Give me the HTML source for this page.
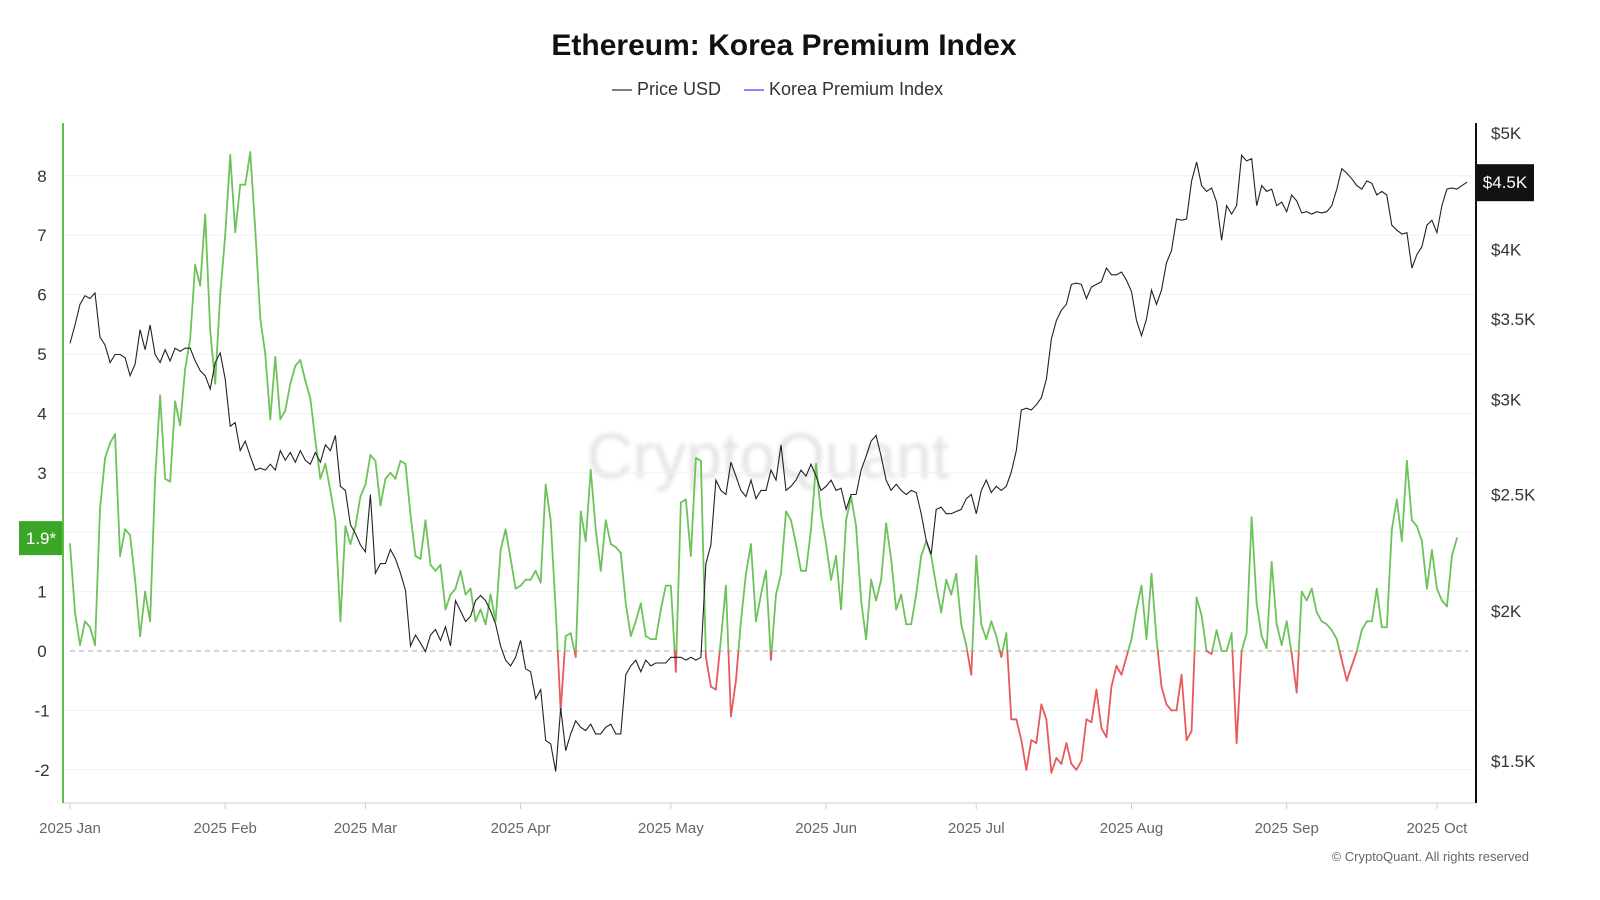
<!DOCTYPE html>
<html><head><meta charset="utf-8"><title>Ethereum: Korea Premium Index</title>
<style>
html,body{margin:0;padding:0;background:#fff;}
svg{display:block;font-family:"Liberation Sans",sans-serif;}
</style></head>
<body>
<svg id="chart" width="1600" height="900" viewBox="0 0 1600 900">
<rect width="1600" height="900" fill="#fff"/>
<text x="784" y="55" text-anchor="middle" font-size="30" font-weight="bold" fill="#111">Ethereum: Korea Premium Index</text>
<g>
 <g>
  <line x1="612" y1="90" x2="632" y2="90" stroke="#555" stroke-width="1.5"/>
  <text x="637" y="95" font-size="18" fill="#333">Price USD</text>
 </g>
 <g>
  <line x1="744" y1="90" x2="764" y2="90" stroke="#6a5cff" stroke-width="1.5"/>
  <text x="769" y="95" font-size="18" fill="#333">Korea Premium Index</text>
 </g>
</g>
<text x="768" y="478" text-anchor="middle" font-size="64" fill="#e4e4e4" style="filter:blur(2px)">CryptoQuant</text>
<g id="grid"></g>
<g id="axes"></g>
<g id="series"></g>
<g id="badges"></g>
<text x="1529" y="861" text-anchor="end" font-size="13" fill="#666">© CryptoQuant. All rights reserved</text>
</svg>
<script>
const monthLabels = ["2025 Jan","2025 Feb","2025 Mar","2025 Apr","2025 May","2025 Jun","2025 Jul","2025 Aug","2025 Sep","2025 Oct"];
const monthDays = [0,31,59,90,120,151,181,212,243,273];
const leftTicks = [-2,-1,0,1,2,3,4,5,6,7,8];
const rightTickValues = [1500,2000,2500,3000,3500,4000,5000];
const rightTickLabels = ["$1.5K","$2K","$2.5K","$3K","$3.5K","$4K","$5K"];
const priceUSD = [3340,3460,3600,3660,3640,3680,3380,3330,3220,3270,3270,3250,3140,3210,3430,3300,3460,3270,3220,3300,3230,3310,3290,3310,3310,3230,3170,3140,3060,3220,3280,3120,2850,2870,2720,2770,2690,2620,2630,2620,2650,2620,2720,2670,2710,2660,2720,2670,2650,2710,2660,2750,2720,2800,2540,2520,2360,2320,2270,2240,2500,2150,2190,2190,2250,2210,2150,2080,1870,1910,1880,1850,1910,1930,1890,1940,1870,2040,2000,1960,1980,2040,2060,2040,2000,1950,1870,1820,1800,1830,1890,1790,1780,1690,1720,1560,1550,1470,1660,1530,1580,1620,1600,1590,1610,1580,1580,1600,1610,1580,1580,1770,1800,1820,1780,1820,1800,1810,1810,1810,1830,1830,1830,1820,1830,1820,1830,2190,2270,2570,2520,2500,2660,2590,2520,2490,2570,2480,2520,2520,2620,2570,2750,2520,2540,2570,2620,2590,2650,2590,2520,2540,2570,2520,2530,2430,2500,2500,2620,2690,2770,2800,2690,2570,2520,2550,2520,2500,2520,2510,2410,2290,2230,2430,2440,2410,2410,2420,2430,2480,2500,2410,2520,2570,2510,2540,2520,2540,2610,2720,2940,2950,2940,2970,3010,3120,3370,3490,3560,3600,3740,3750,3740,3640,3720,3740,3760,3860,3810,3810,3830,3770,3690,3490,3390,3500,3700,3600,3700,3900,3990,4240,4230,4240,4560,4730,4520,4470,4500,4380,4070,4350,4280,4350,4790,4740,4760,4350,4520,4470,4490,4350,4380,4300,4440,4390,4290,4300,4280,4300,4290,4300,4350,4490,4670,4630,4580,4520,4490,4560,4540,4440,4470,4440,4190,4150,4120,4130,3860,3960,4020,4190,4230,4130,4350,4490,4500,4490,4520,4550];
const premiumIndex = [1.8,0.65,0.1,0.5,0.4,0.1,2.4,3.25,3.5,3.65,1.6,2.05,1.95,1.2,0.25,1.0,0.5,2.9,4.3,2.9,2.85,4.2,3.8,4.75,5.25,6.5,6.15,7.35,5.4,4.5,6.0,7.0,8.35,7.05,7.85,7.85,8.4,7.1,5.6,5.0,3.9,4.95,3.9,4.05,4.5,4.8,4.9,4.55,4.25,3.55,2.9,3.15,2.7,2.2,0.5,2.1,1.8,2.1,2.6,2.8,3.3,3.2,2.45,2.9,3.0,2.9,3.2,3.15,2.3,1.6,1.55,2.2,1.45,1.35,1.45,0.7,0.95,1.05,1.35,0.95,1.05,0.5,0.7,0.45,0.95,0.5,1.7,2.05,1.55,1.05,1.1,1.2,1.2,1.35,1.15,2.8,2.2,0.7,-1.0,0.25,0.3,-0.1,2.35,1.85,3.05,2.05,1.35,2.2,1.8,1.75,1.65,0.8,0.25,0.5,0.8,0.25,0.2,0.2,0.7,1.1,1.1,-0.35,2.5,2.55,1.6,3.25,3.2,-0.1,-0.6,-0.65,0.2,1.1,-1.1,-0.5,0.5,1.3,1.8,0.5,0.95,1.35,-0.15,0.95,1.3,2.35,2.2,1.8,1.35,1.35,2.05,3.15,2.3,1.8,1.2,1.6,0.7,2.2,2.6,2.1,0.85,0.2,1.2,0.85,1.2,2.15,1.55,0.7,0.95,0.45,0.45,0.95,1.6,1.85,1.6,1.1,0.65,1.2,0.95,1.3,0.45,0.1,-0.4,1.6,0.45,0.2,0.5,0.25,-0.1,0.3,-1.15,-1.15,-1.5,-2.0,-1.5,-1.55,-0.9,-1.15,-2.05,-1.8,-1.9,-1.55,-1.9,-2.0,-1.85,-1.15,-1.2,-0.65,-1.3,-1.45,-0.6,-0.25,-0.4,-0.1,0.2,0.7,1.1,0.2,1.3,0.2,-0.6,-0.9,-1.0,-1.0,-0.4,-1.5,-1.35,0.9,0.6,0.0,-0.05,0.35,0.0,0.0,0.3,-1.55,0.0,0.3,2.25,0.8,0.25,0.05,1.5,0.45,0.1,0.5,-0.05,-0.7,1.0,0.85,1.05,0.65,0.5,0.45,0.35,0.2,-0.15,-0.5,-0.25,0.0,0.35,0.5,0.5,1.05,0.4,0.4,2.05,2.55,1.85,3.2,2.2,2.1,1.85,1.05,1.7,1.05,0.85,0.75,1.6,1.9];
const latestPremiumLabel = "1.9*";
const latestPriceLabel = "$4.5K";

const NS = "http://www.w3.org/2000/svg";
function mk(tag, attrs, parent){const e=document.createElementNS(NS,tag);for(const k in attrs)e.setAttribute(k,attrs[k]);parent.appendChild(e);return e;}
const X0=70, PXDAY=5.007, PLOT_L=63, PLOT_R=1476, PLOT_T=123, PLOT_B=803;
const xDay = d => X0 + d*PXDAY;
const yLeft = v => 651 - v*59.4;
const yRight = p => 133 + Math.log(5000/p)*521.6;

const grid=document.getElementById('grid'), axes=document.getElementById('axes'), series=document.getElementById('series'), badges=document.getElementById('badges');

leftTicks.forEach(v=>{
  const y=yLeft(v);
  if(v!==0){const g=mk('line',{x1:PLOT_L,x2:PLOT_R,y1:y,y2:y,stroke:'#f1f1f1','stroke-width':1},grid);
  
  }
  const t=mk('text',{x:42,y:y+6,'text-anchor':'middle','font-size':17,fill:'#333'},axes);
  t.textContent=v;
  
  
});
const zl=mk('line',{x1:X0,x2:1468,y1:yLeft(0),y2:yLeft(0),stroke:'#bbb','stroke-width':1.2,'stroke-dasharray':'5,4'},grid);



rightTickValues.forEach((p,i)=>{
  const t=mk('text',{x:1491,y:yRight(p)+6,'font-size':17,fill:'#333'},axes);
  t.textContent=rightTickLabels[i];
  
  
});
monthDays.forEach((d,i)=>{
  const x=xDay(d);
  const tk=mk('line',{x1:x,x2:x,y1:PLOT_B,y2:PLOT_B+6,stroke:'#ccc'},axes);
  
  
  const t=mk('text',{x:x,y:833,'text-anchor':'middle','font-size':15,fill:'#666'},axes);
  t.textContent=monthLabels[i];
  
  
});
const xa=mk('line',{x1:PLOT_L,x2:PLOT_R,y1:PLOT_B,y2:PLOT_B,stroke:'#ddd','stroke-width':1.5},axes);


const la=mk('line',{x1:PLOT_L,x2:PLOT_L,y1:PLOT_T,y2:PLOT_B,stroke:'#5cbf4a','stroke-width':2},axes);


const ra=mk('line',{x1:PLOT_R,x2:PLOT_R,y1:PLOT_T,y2:PLOT_B,stroke:'#111','stroke-width':2},axes);



// premium segments
const GREEN='#6cc35a', RED='#e85a5a';
for(let i=0;i<premiumIndex.length-1;i++){
  const a=premiumIndex[i], b=premiumIndex[i+1];
  const x1=xDay(i), x2=xDay(i+1);
  let segs=[];
  if((a>=0&&b>=0)||(a<0&&b<0)) segs.push([x1,a,x2,b,a>=0&&b>=0?GREEN:RED]);
  else { const t=a/(a-b); const xm=x1+(x2-x1)*t;
    segs.push([x1,a,xm,0,a>=0?GREEN:RED]); segs.push([xm,0,x2,b,b>=0?GREEN:RED]); }
  segs.forEach(s=>{
    const l=mk('line',{x1:s[0],y1:yLeft(s[1]),x2:s[2],y2:yLeft(s[3]),stroke:s[4],'stroke-width':1.8,'stroke-linecap':'round'},series);
    
    
  });
}
// price line
const pp=mk('path',{d:priceUSD.map((p,i)=>(i?'L':'M')+xDay(i).toFixed(1)+' '+yRight(p).toFixed(1)).join(' '),fill:'none',stroke:'#222','stroke-width':1.1},series);



// badges
const lastP=premiumIndex[premiumIndex.length-1];
const lb=mk('rect',{x:19,y:yLeft(lastP)-17,width:43,height:34,fill:'#3aa526'},badges);


const lt=mk('text',{x:41,y:yLeft(lastP)+6,'text-anchor':'middle','font-size':17,fill:'#fff'},badges);
lt.textContent=latestPremiumLabel;


const lastPr=priceUSD[priceUSD.length-1];
const rb=mk('rect',{x:1477,y:yRight(lastPr)-18,width:57,height:37,fill:'#111'},badges);


const rt=mk('text',{x:1505,y:yRight(lastPr)+6,'text-anchor':'middle','font-size':17,fill:'#fff'},badges);
rt.textContent=latestPriceLabel;


</script>
</body></html>
